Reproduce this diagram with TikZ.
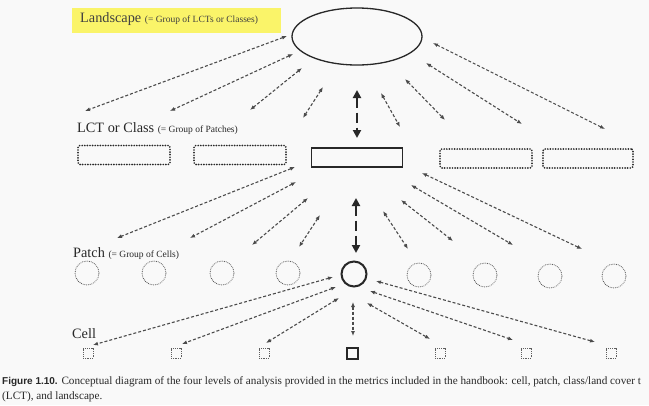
\documentclass[tikz,border=0pt]{standalone}
\usepackage{fontspec}
\setmainfont{Liberation Serif}
\newfontfamily\capsans{Liberation Sans}
\usetikzlibrary{arrows.meta,shapes.geometric}

\definecolor{ink}{RGB}{40,40,40}
\definecolor{arrowgray}{RGB}{75,75,75}
\definecolor{dotgray}{RGB}{95,95,95}
\definecolor{hilite}{RGB}{250,244,105}
\definecolor{paper}{RGB}{249,249,249}

\begin{document}
\begin{tikzpicture}[x=1pt,y=-1pt,
  link/.style={draw=arrowgray, line width=1.1pt, dash pattern=on 3pt off 2pt,
    {Latex[length=5pt,width=4pt]}-{Latex[length=5pt,width=4pt]}},
  boldlink/.style={draw=ink, line width=2.8pt, dash pattern=on 10pt off 5pt,
    {Triangle[length=8pt,width=8pt]}-{Triangle[length=8pt,width=8pt]}},
  lctbox/.style={rectangle, draw=ink, rounded corners=2pt, line width=1.9pt,
    dash pattern=on 0pt off 2.6pt, line cap=round,
    minimum width=92pt, minimum height=19pt, inner sep=0pt},
  lctmain/.style={rectangle, draw=ink, line width=1.9pt,
    minimum width=91pt, minimum height=19pt, inner sep=0pt},
  patchc/.style={circle, draw=dotgray, line width=1.1pt,
    dash pattern=on 0pt off 1.8pt, line cap=round,
    minimum size=24pt, inner sep=0pt},
  patchmain/.style={circle, draw=ink, line width=2pt,
    minimum size=25pt, inner sep=0pt},
  cellbox/.style={rectangle, draw=dotgray, line width=0.8pt,
    dash pattern=on 0.9pt off 0.9pt, minimum size=10pt, inner sep=0pt},
  cellmain/.style={rectangle, draw=ink, line width=2pt,
    minimum size=11pt, inner sep=0pt},
  levellbl/.style={anchor=base west, inner sep=0pt, text=ink,
    font=\fontsize{14.3}{15}\selectfont},
  captext/.style={anchor=base west, inner sep=0pt, text=ink,
    font=\fontsize{11.2}{13}\selectfont}
]
\useasboundingbox (0,0) rectangle (649,405);
\fill[paper] (0,0) rectangle (649,405);

% landscape level
\fill[hilite] (72,8) rectangle (281,33);
\node[levellbl, text=black!75] (landlbl) at (80,22.5)
  {Landscape {\fontsize{9.5}{10}\selectfont (= Group of LCTs or Classes)}};
\node[ellipse, draw=ink, line width=1.3pt, minimum width=130pt,
  minimum height=57pt, inner sep=0pt] (land) at (357,36.5) {};

% class level
\node[levellbl] (lctlbl) at (77,132)
  {LCT or Class {\fontsize{9.5}{10}\selectfont (= Group of Patches)}};
\node[lctbox] (lct1) at (124,155) {};
\node[lctbox] (lct2) at (240,155) {};
\node[lctmain] (lct) at (357,157.5) {};
\node[lctbox] (lct3) at (486,158.5) {};
\node[lctbox, minimum width=90pt] (lct4) at (588,158.5) {};

% patch level
\node[levellbl] (patchlbl) at (73,257)
  {Patch {\fontsize{9.5}{10}\selectfont (= Group of Cells)}};
\node[patchc] (p1) at (87,273) {};
\node[patchc] (p2) at (154,273) {};
\node[patchc] (p3) at (222,273) {};
\node[patchc] (p4) at (288,273) {};
\node[patchmain] (pm) at (354,274) {};
\node[patchc] (p5) at (419,275) {};
\node[patchc] (p6) at (485,275) {};
\node[patchc] (p7) at (550,276) {};
\node[patchc] (p8) at (614,276) {};

% cell level
\node[levellbl] (celllbl) at (72,338) {Cell};
\node[cellbox] (c1) at (88,353) {};
\node[cellbox] (c2) at (176,353) {};
\node[cellbox] (c3) at (264,353) {};
\node[cellmain] (cm) at (352,353) {};
\node[cellbox] (c4) at (440,353) {};
\node[cellbox] (c5) at (526,353) {};
\node[cellbox] (c6) at (611,353) {};

% fan of links between landscape and classes
\foreach \n/\a/\b/\c/\d in {
  la/287/36/85/111, lb/293/54/170/111, lc/302/68/250/110, ld/323/87/303/118,
  le/381/93/400/127, lf/405/79/445/120, lg/426/63/522/124, lh/433/43/605/129}{
  \coordinate (\n s) at (\a,\b);
  \coordinate (\n t) at (\c,\d);
  \draw[link] (\n s) -- (\n t);
}
\coordinate (lmid s) at (357,90);
\coordinate (lmid t) at (357,138);
\draw[boldlink] (lmid s) -- (lmid t);

% fan of links between the class and patches
\foreach \n/\a/\b/\c/\d in {
  ka/295/167/117/238, kb/296/182/190/238, kc/308/198/252/245, kd/320/215/299/247,
  ke/383/211/408/249, kf/401/200/453/241, kg/411/185/513/245, kh/422/173/582/249}{
  \coordinate (\n s) at (\a,\b);
  \coordinate (\n t) at (\c,\d);
  \draw[link] (\n s) -- (\n t);
}
\coordinate (kmid s) at (356,198);
\coordinate (kmid t) at (356,253);
\draw[boldlink] (kmid s) -- (kmid t);

% fan of links between the patch and cells
\foreach \n/\a/\b/\c/\d in {
  ma/333/277/93/345, mb/336/287/182/344, mc/339/298/266/343, md/353/302/353/336,
  me/367/303/430/339, mf/370/291/513/340, mg/376/281/595/342}{
  \coordinate (\n s) at (\a,\b);
  \coordinate (\n t) at (\c,\d);
  \draw[link] (\n s) -- (\n t);
}

% caption
\node[captext] (cap1) at (2,384)
  {{\capsans\bfseries\fontsize{10}{13}\selectfont Figure 1.10.} Conceptual diagram of the four levels of analysis provided in the metrics included in the handbook: cell, patch, class/land cover t};
\node[captext] (cap2) at (2,399) {(LCT), and landscape.};
\end{tikzpicture}
\end{document}
